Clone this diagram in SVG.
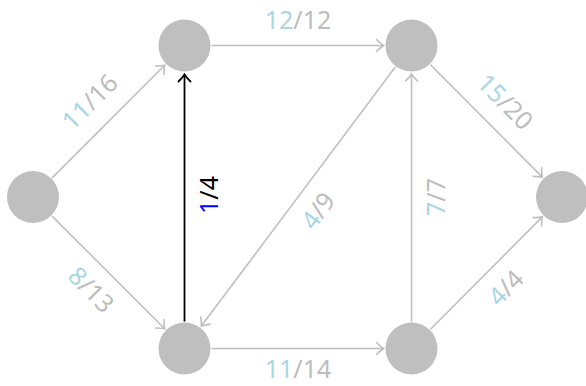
<svg xmlns="http://www.w3.org/2000/svg" width="586" height="386" viewBox="0 0 586 386">
<style>
.node{fill:#bfbfbf}
.edge{fill:none;stroke:#bfbfbf;stroke-width:1.6}
.edge.k{stroke:#000;stroke-width:1.8}
.lbl{font-family:"Noto Sans","DejaVu Sans",sans-serif;font-size:25px;fill:#bdbdbd;text-anchor:middle;dominant-baseline:central}
.f{fill:#a9d6e5}
.b{fill:#0000ff}
.bk{fill:#000}
</style>
<defs>
<marker id="ag" markerUnits="userSpaceOnUse" markerWidth="20" markerHeight="20" viewBox="-10 -10 20 20" refX="0" refY="0" orient="auto" overflow="visible">
<path d="M-7,-6 Q-2.5,-1.5 0,0 Q-2.5,1.5 -7,6" fill="none" stroke="#bfbfbf" stroke-width="1.6" stroke-linecap="round"/>
</marker>
<marker id="ak" markerUnits="userSpaceOnUse" markerWidth="20" markerHeight="20" viewBox="-10 -10 20 20" refX="0" refY="0" orient="auto" overflow="visible">
<path d="M-7,-6 Q-2.5,-1.5 0,0 Q-2.5,1.5 -7,6" fill="none" stroke="#000" stroke-width="1.8" stroke-linecap="round"/>
</marker>
</defs>
<g id="connectors">
<line class="edge" x1="52.1" y1="177.9" x2="164.7" y2="65.3" marker-end="url(#ag)"/>
<line class="edge" x1="52.1" y1="216.1" x2="164.7" y2="328.7" marker-end="url(#ag)"/>
<line class="edge" x1="211.5" y1="45.5" x2="383.5" y2="45.5" marker-end="url(#ag)"/>
<line class="edge" x1="211.5" y1="348.5" x2="383.5" y2="348.5" marker-end="url(#ag)"/>
<line class="edge" x1="430.5" y1="64.7" x2="542.3" y2="177.1" marker-end="url(#ag)"/>
<line class="edge" x1="430.5" y1="329.3" x2="542.3" y2="216.9" marker-end="url(#ag)"/>
<line class="edge k" x1="184.5" y1="321.5" x2="184.5" y2="74.5" marker-end="url(#ak)"/>
<line class="edge" x1="395.3" y1="67.1" x2="201.3" y2="326.1" marker-end="url(#ag)"/>
<line class="edge" x1="411.5" y1="321.5" x2="411.5" y2="74" marker-end="url(#ag)"/>
<text class="lbl" x="298" y="19"><tspan class="f">12</tspan>/12</text>
<text class="lbl" x="298" y="378" style="dominant-baseline:auto"><tspan class="f">11</tspan>/14</text>
<text class="lbl" transform="translate(89,101) rotate(-45)"><tspan class="f">11</tspan>/16</text>
<text class="lbl" transform="translate(92,289) rotate(45)"><tspan class="f">8</tspan>/13</text>
<text class="lbl" transform="translate(208,195) rotate(-90)"><tspan class="b">1</tspan><tspan class="bk">/4</tspan></text>
<text class="lbl" transform="translate(317,210) rotate(-53.2)"><tspan class="f">4</tspan>/9</text>
<text class="lbl" transform="translate(435,197) rotate(-90)"><tspan class="f">7</tspan>/7</text>
<text class="lbl" transform="translate(506,101) rotate(45)"><tspan class="f">15</tspan>/20</text>
<text class="lbl" transform="translate(505,287) rotate(-45)"><tspan class="f">4</tspan>/4</text>
</g>
<g id="n1"><circle class="node" cx="33" cy="197" r="26"/></g>
<g id="n2"><circle class="node" cx="184.5" cy="45.5" r="26"/></g>
<g id="n3"><circle class="node" cx="184.5" cy="348.5" r="26"/></g>
<g id="n4"><circle class="node" cx="411.5" cy="45.5" r="26"/></g>
<g id="n5"><circle class="node" cx="411.5" cy="348.5" r="26"/></g>
<g id="n6"><circle class="node" cx="562" cy="197" r="26"/></g>
</svg>
